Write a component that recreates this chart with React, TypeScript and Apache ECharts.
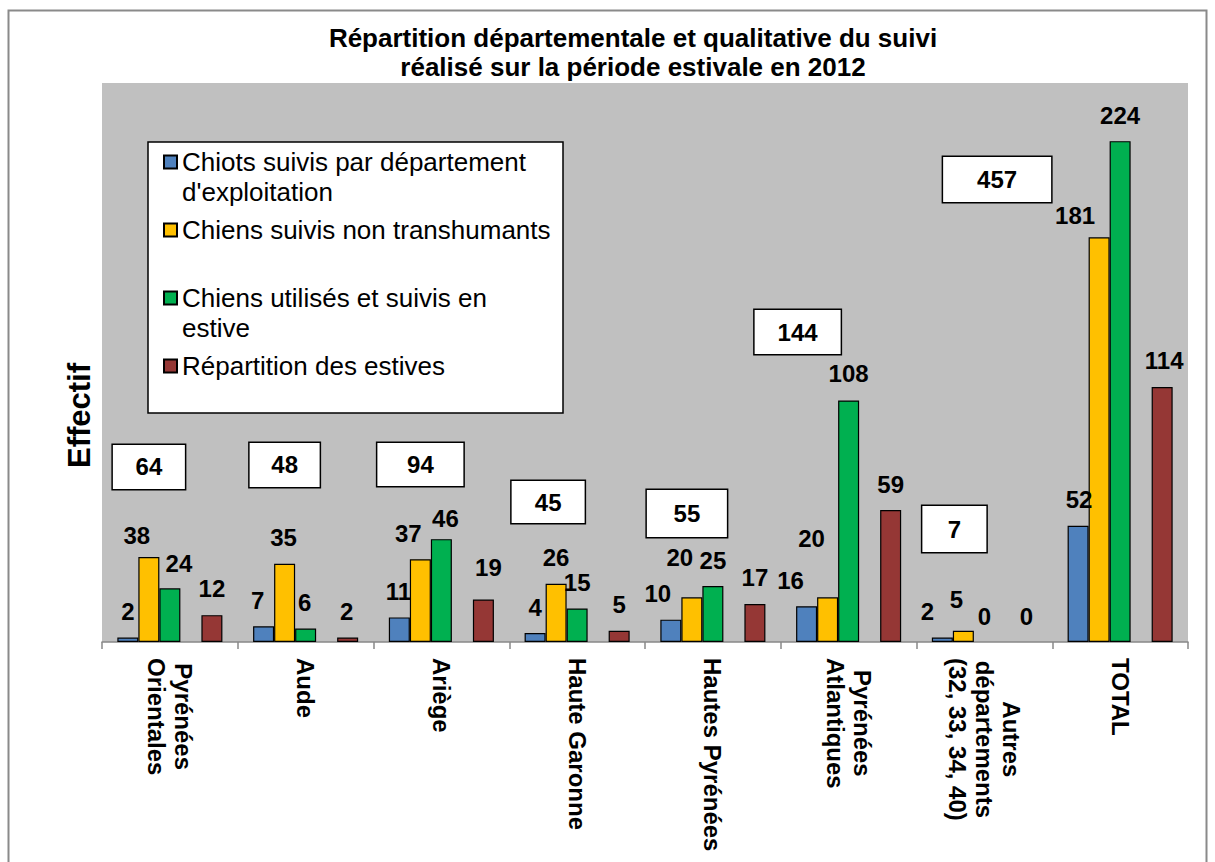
import { useEffect, useRef } from 'react';
import * as echarts from 'echarts';

// ---------- data ----------
const categories = [
  'Pyrénées\nOrientales',
  'Aude',
  'Ariège',
  'Haute Garonne',
  'Hautes Pyrénées',
  'Pyrénées\nAtlantiques',
  'Autres\ndépartements\n(32, 33, 34, 40)',
  'TOTAL',
];
const seriesNames = [
  "Chiots suivis par département d'exploitation",
  'Chiens suivis non transhumants',
  'Chiens utilisés et suivis en estive',
  'Répartition des estives',
];
const chiots = [2, 7, 11, 4, 10, 16, 2, 52];
const nonTranshumants = [38, 35, 37, 26, 20, 20, 5, 181];
const utilises = [24, 6, 46, 15, 25, 108, 0, 224];
const estives = [12, 2, 19, 5, 17, 59, 0, 114];
// totals shown in the white boxes = sum of the first three series
const totals = categories.map((_, i) => chiots[i] + nonTranshumants[i] + utilises[i]);

// ---------- layout / style (not data) ----------
const FONT = "'Liberation Sans', Arial, Helvetica, sans-serif";
const colors = ['#4F81BD', '#FFC000', '#00B050', '#953735'];
const legendText: Record<string, string> = {
  [seriesNames[0]]: '\nChiots suivis par département\nd\'exploitation',
  [seriesNames[1]]: 'Chiens suivis non transhumants',
  [seriesNames[2]]: '\nChiens utilisés et suivis en\nestive',
  [seriesNames[3]]: 'Répartition des estives',
};
// manual label nudges [dx, dy] in px (as in the original hand-placed labels)
const nudges = [
  [[0, 0], [-6, 0], [-1, 0], [0, 0], [-13, 0], [-16, 0], [-15, 0], [1, 0]],
  [[-12, 4], [-1, 0], [-12, 0], [0, 0], [-12, -14], [-16, -33], [-7, -5], [-24, 4]],
  [[9, 1], [-1, 0], [4, 5], [0, 0], [0, 0], [0, -1], [0, 0], [0, 0]],
  [[0, -1], [-1, 0], [5, -6], [0, 0], [0, 0], [0, 0], [0, 0], [2, -1]],
];
// total boxes: horizontal shift (px), vertical level (axis units), box size (px)
const boxPlacement = [
  { dx: -21, level: 78.3, w: 72, h: 44 },
  { dx: -21, level: 79.2, w: 70, h: 44 },
  { dx: -21, level: 79.4, w: 86, h: 43 },
  { dx: -29, level: 62.6, w: 73, h: 42 },
  { dx: -26, level: 57.5, w: 80, h: 47 },
  { dx: -51, level: 138.6, w: 86, h: 44 },
  { dx: -30, level: 50.5, w: 64, h: 46 },
  { dx: -123, level: 206.8, w: 108, h: 45 },
];

const labelStyle = {
  show: true,
  position: 'top',
  distance: 14,
  fontFamily: FONT,
  fontSize: 24,
  fontWeight: 'bold',
  color: '#000',
  lineHeight: 24,
};

function barSeries(name: string, values: number[], color: string, nudge: number[][]) {
  return {
    type: 'bar',
    name,
    barGap: '0%',
    barCategoryGap: '22.6%',
    itemStyle: { color, borderColor: '#000', borderWidth: 1.2 },
    label: labelStyle,
    emphasis: { disabled: true },
    data: values.map((v, i) => ({
      value: v,
      itemStyle: v === 0 ? { borderWidth: 0 } : undefined,
      label: { offset: nudge[i] },
    })),
  };
}

const option: any = {
  animation: false,
  backgroundColor: '#fff',
  title: {
    text: 'Répartition départementale et qualitative du suivi\nréalisé sur la période estivale en 2012',
    left: 633,
    top: 23,
    padding: 0,
    textAlign: 'center',
    textStyle: { fontFamily: FONT, fontSize: 26, fontWeight: 'bold', color: '#000', lineHeight: 29 },
  },
  grid: {
    left: 102,
    right: 27,
    top: 83,
    bottom: 220,
    show: true,
    backgroundColor: '#C0C0C0',
    borderWidth: 0,
    containLabel: false,
    outerBoundsMode: 'none',
  },
  legend: {
    orient: 'vertical',
    left: 163,
    top: 117,
    padding: 0,
    itemGap: 8,
    itemWidth: 13,
    itemHeight: 13,
    icon: 'rect',
    selectedMode: false,
    z: 10,
    data: seriesNames,
    formatter: (n: string) => legendText[n] ?? n,
    textStyle: { fontFamily: FONT, fontSize: 26, color: '#000', lineHeight: 30 },
  },
  graphic: [
    {
      type: 'rect',
      silent: true,
      z: 0,
      shape: { x: 8.5, y: 10.5, width: 1198, height: 900 },
      style: { fill: 'none', stroke: '#8a8a8a', lineWidth: 2 },
    },
    {
      type: 'rect',
      silent: true,
      z: 1,
      shape: { x: 148, y: 142, width: 415, height: 271 },
      style: { fill: '#fff', stroke: '#000', lineWidth: 1.5 },
    },
  ],
  xAxis: {
    type: 'category',
    data: categories,
    axisLine: { lineStyle: { color: '#888', width: 1.5 } },
    axisTick: { show: true, interval: 0, length: 7, lineStyle: { color: '#888', width: 1.5 } },
    axisLabel: {
      interval: 0,
      rotate: -90,
      margin: 16,
      color: '#000',
      formatter: (v: string) => v.split('\n').map((s) => `{c|${s}}`).join('\n'),
      rich: {
        c: { fontFamily: FONT, fontSize: 24, fontWeight: 'bold', lineHeight: 27, align: 'center', color: '#000' },
      },
    },
    splitLine: { show: false },
  },
  yAxis: {
    type: 'value',
    min: 0,
    max: 250,
    axisLine: { show: false },
    axisTick: { show: false },
    axisLabel: { show: false },
    splitLine: { show: false },
    name: 'Effectif',
    nameLocation: 'middle',
    nameRotate: 90,
    nameGap: 7,
    nameTextStyle: { fontFamily: FONT, fontSize: 31, fontWeight: 'bold', color: '#000', padding: [0, 106, 0, 0] },
  },
  series: [
    barSeries(seriesNames[0], chiots, colors[0], nudges[0]),
    barSeries(seriesNames[1], nonTranshumants, colors[1], nudges[1]),
    barSeries(seriesNames[2], utilises, colors[2], nudges[2]),
    { type: 'bar', name: 'vide', barGap: '0%', barCategoryGap: '22.6%', data: [] },
    barSeries(seriesNames[3], estives, colors[3], nudges[3]),
    {
      type: 'scatter',
      name: 'Total',
      symbolSize: 0,
      silent: true,
      z: 5,
      itemStyle: { opacity: 1 },
      emphasis: { disabled: true },
      label: {
        show: true,
        position: 'inside',
        formatter: (p: any) => String(totals[p.dataIndex]),
        backgroundColor: '#fff',
        borderColor: '#000',
        borderWidth: 1.5,
        opacity: 1,
        shadowBlur: 0,
        shadowColor: 'transparent',
        textShadowBlur: 0,
        textBorderWidth: 0,
        fontFamily: FONT,
        fontSize: 24,
        fontWeight: 'bold',
        color: '#000',
        lineHeight: 24,
        align: 'center',
        verticalAlign: 'middle',
      },
      data: boxPlacement.map((b, i) => ({
        value: [i, b.level],
        label: { offset: [b.dx, 0], width: b.w, height: b.h },
      })),
    },
  ],
};

export default function App() {
  const ref = useRef<HTMLDivElement>(null);
  useEffect(() => {
    if (!ref.current) return;
    const chart = echarts.init(ref.current, undefined, { renderer: 'svg' });
    chart.setOption(option);
    return () => chart.dispose();
  }, []);
  return (
    <div
      ref={ref}
      style={{ position: 'absolute', left: 0, top: 0, width: '1215px', height: '862px', background: '#fff' }}
    />
  );
}
